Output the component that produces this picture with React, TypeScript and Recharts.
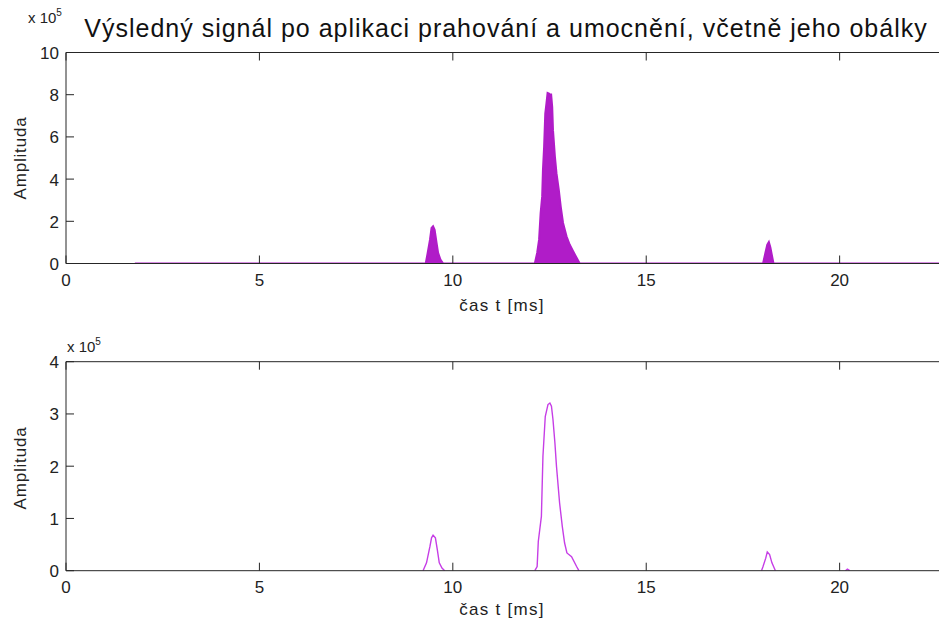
import React from 'react';
import {ComposedChart, Area, Line, XAxis, YAxis} from 'recharts';

const xTicks = [0, 5, 10, 15, 20];
const topYTicks = [0, 2, 4, 6, 8, 10];
const bottomYTicks = [0, 1, 2, 3, 4];

// thresholded + squared signal, upper edge of the filled trace (x 10^5)
const signalTime = [1.78, 9.30, 9.35, 9.41, 9.45, 9.49, 9.53, 9.58, 9.62, 9.68, 9.75,
    12.12, 12.18, 12.23, 12.27, 12.31, 12.33, 12.36, 12.39, 12.42, 12.45, 12.49, 12.51, 12.54,
    12.57, 12.59, 12.64, 12.68, 12.74, 12.79, 12.85, 12.94, 13.02, 13.11, 13.20, 13.28,
    18.02, 18.08, 18.13, 18.17, 18.21, 18.25, 18.29, 22.75];
const signalAmp = [0, 0, 0.5, 1.13, 1.68, 1.76, 1.6, 0.98, 0.5, 0.19, 0,
    0, 0.5, 1.13, 2.39, 3.18, 4.43, 5.53, 7.11, 7.58, 8.08, 8.05, 7.58, 8.05,
    7.42, 6.32, 5.06, 4.28, 3.49, 2.70, 1.92, 1.29, 0.90, 0.58, 0.27, 0,
    0, 0.5, 0.9, 1.02, 0.76, 0.38, 0, 0];

// envelope (x 10^5), null = gap
const envTime = [9.23, 9.32, 9.41, 9.45, 9.49, 9.55, 9.60, 9.65, 9.72, 9.79, 9.80,
    12.12, 12.18, 12.21, 12.29, 12.33, 12.39, 12.46, 12.51, 12.55, 12.59, 12.64, 12.68,
    12.76, 12.83, 12.89, 12.95, 13.07, 13.20, 13.26, 13.30,
    17.98, 18.02, 18.09, 18.13, 18.19, 18.25, 18.34, 18.40,
    20.15, 20.20, 20.26];
const envAmp = [0, 0.15, 0.47, 0.63, 0.68, 0.63, 0.40, 0.15, 0.05, 0, null,
    0, 0.08, 0.56, 1.04, 2.19, 2.95, 3.18, 3.21, 3.15, 2.89, 2.44, 2.0,
    1.30, 0.85, 0.53, 0.34, 0.27, 0.08, 0, null,
    0, 0.08, 0.24, 0.36, 0.31, 0.15, 0, null,
    0, 0.03, 0];

const signalData = signalTime.map((t, i) => ({t, amp: signalAmp[i]}));
const envData = envTime.map((t, i) => ({t, amp: envAmp[i]}));

const FONT = '"Liberation Sans", Arial, sans-serif';
const AXIS = '#262626';
const W = 960;

function BottomTick(props: any) {
    const {x, y, payload} = props;
    return (
        <g>
            <line x1={x} x2={x} y1={y} y2={y - 8} stroke={AXIS}/>
            <text x={x} y={y + 22} textAnchor="middle" fontSize={17} fontFamily={FONT} fill="#222">{payload.value}</text>
        </g>
    );
}

function TopTick(props: any) {
    const {x, y} = props;
    return <line x1={x} x2={x} y1={y} y2={y + 8} stroke={AXIS}/>;
}

function LeftTick(props: any) {
    const {x, y, payload} = props;
    return (
        <g>
            <line x1={x} x2={x + 8} y1={y} y2={y} stroke={AXIS}/>
            <text x={x - 7} y={y + 6.5} textAnchor="end" fontSize={17} fontFamily={FONT} fill="#222">{payload.value}</text>
        </g>
    );
}

type plotProps = {
    top: number,       // page y of plot top
    plotH: number,
    chartTop: number,
    chartH: number,
    yMax: number,
    yTicks: number[],
    children: React.ReactNode,
    data: any[],
}

function Plot(props: plotProps) {
    const relTop = props.top - props.chartTop;
    const topAxisH = 10;
    const bottomAxisH = 30;
    const margin = {
        top: relTop - topAxisH,
        left: 0,
        right: W - 66 - 880,
        bottom: props.chartH - relTop - props.plotH - bottomAxisH,
    };
    return (
        <div style={{position: 'absolute', left: 0, top: props.chartTop}}>
            <ComposedChart width={W} height={props.chartH} data={props.data} margin={margin}>
                <XAxis xAxisId="b" dataKey="t" type="number" domain={[0, 22.75]} ticks={xTicks}
                       allowDataOverflow height={bottomAxisH} tickLine={false} tickSize={0} tickMargin={0}
                       stroke={AXIS} tick={<BottomTick/>}/>
                <XAxis xAxisId="t" orientation="top" dataKey="t" type="number" domain={[0, 22.75]} ticks={xTicks}
                       allowDataOverflow height={topAxisH} tickLine={false} tickSize={0} tickMargin={0}
                       stroke={AXIS} tick={<TopTick/>}/>
                <YAxis domain={[0, props.yMax]} ticks={props.yTicks} width={66} tickLine={false} tickSize={0}
                       tickMargin={0} stroke={AXIS} tick={<LeftTick/>} allowDataOverflow/>
                {props.children}
            </ComposedChart>
        </div>
    );
}

const labelStyle: React.CSSProperties = {
    position: 'absolute', fontFamily: FONT, color: '#222', whiteSpace: 'nowrap',
    transform: 'translate(-50%, -50%)', lineHeight: 1,
};

function Exp(props: {x: number, y: number}) {
    return (
        <div style={{position: 'absolute', left: props.x, top: props.y, fontFamily: FONT, color: '#222', whiteSpace: 'nowrap', lineHeight: 1}}>
            <span style={{fontSize: 15}}>x 10</span>
            <span style={{fontSize: 10, position: 'relative', top: -7}}>5</span>
        </div>
    );
}

export default function App() {
    return (
        <div style={{position: 'absolute', left: 0, top: 0, width: 939, height: 623, overflow: 'hidden', background: '#fff'}}>
            <div style={{...labelStyle, left: 506, top: 28, fontSize: 25, letterSpacing: 1.0, color: '#111'}}>
                Výsledný signál po aplikaci prahování a umocnění, včetně jeho obálky
            </div>
            <Exp x={28} y={10}/>
            <Exp x={67} y={339}/>

            <Plot top={52.5} plotH={211} chartTop={0} chartH={320} yMax={10} yTicks={topYTicks} data={signalData}>
                <Area xAxisId="b" type="linear" dataKey="amp" stroke="#b01cc8" strokeWidth={2} fill="#b01cc8"
                      fillOpacity={1} dot={false} isAnimationActive={false}/>
            </Plot>
            <Plot top={361.7} plotH={209} chartTop={320} chartH={303} yMax={4} yTicks={bottomYTicks} data={envData}>
                <Line xAxisId="b" type="linear" dataKey="amp" stroke="#c63ee6" strokeWidth={1.4} dot={false}
                      connectNulls={false} isAnimationActive={false}/>
            </Plot>

            <div style={{...labelStyle, left: 502, top: 305, fontSize: 17, letterSpacing: 1.3}}>čas t [ms]</div>
            <div style={{...labelStyle, left: 502, top: 609, fontSize: 17, letterSpacing: 1.3}}>čas t [ms]</div>
            <div style={{...labelStyle, left: 20, top: 158, fontSize: 17, letterSpacing: 0.8, transform: 'translate(-50%, -50%) rotate(-90deg)'}}>Amplituda</div>
            <div style={{...labelStyle, left: 20, top: 468, fontSize: 17, letterSpacing: 0.8, transform: 'translate(-50%, -50%) rotate(-90deg)'}}>Amplituda</div>
        </div>
    );
}
